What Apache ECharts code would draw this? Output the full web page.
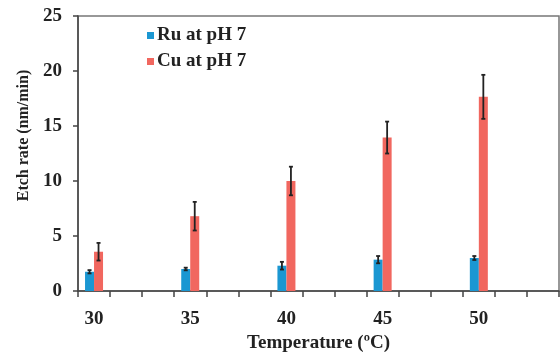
<!DOCTYPE html>
<html>
<head>
<meta charset="utf-8">
<script src="https://cdn.jsdelivr.net/npm/echarts@6/dist/echarts.min.js"></script>
<style>
  html, body { margin: 0; padding: 0; background: #fff; }
  #chart { width: 560px; height: 355px; }
</style>
</head>
<body>
<div id="chart"></div>
<script>
// x slots: one label every third slot, empty slots keep the spacing
const categories = ['30', '', '', '35', '', '', '40', '', '', '45', '', '', '50', '', ''];
const temps = ['30', '35', '40', '45', '50'];
const ruRate = [1.75, 2.0, 2.3, 2.85, 3.0];
const ruErr = [0.15, 0.12, 0.35, 0.33, 0.18];
const cuRate = [3.57, 6.8, 10.0, 13.95, 17.65];
const cuErr = [0.8, 1.3, 1.3, 1.45, 2.0];
const yTicks = [0, 5, 10, 15, 20, 25];

const slotOf = (t) => categories.indexOf(t);

function padded(vals) {
  const out = categories.map(() => null);
  temps.forEach((t, i) => { out[slotOf(t)] = vals[i]; });
  return out;
}

function errData(vals, errs) {
  return temps.map((t, i) => [slotOf(t), vals[i], errs[i]]);
}

const BAR_W = 9;
const font = 'Liberation Serif';

function errRender(shift) {
  return function (params, api) {
    const x = api.value(0);
    const v = api.value(1);
    const e = api.value(2);
    const top = api.coord([x, v + e]);
    const bot = api.coord([x, v - e]);
    const cx = top[0] + shift;
    const style = {stroke: '#222', lineWidth: 1.8};
    return {
      type: 'group',
      children: [
        {type: 'line', shape: {x1: cx, y1: top[1], x2: cx, y2: bot[1]}, style: style},
        {type: 'line', shape: {x1: cx - 2, y1: top[1], x2: cx + 2, y2: top[1]}, style: style},
        {type: 'line', shape: {x1: cx - 2, y1: bot[1], x2: cx + 2, y2: bot[1]}, style: style}
      ]
    };
  };
}

const chart = echarts.init(document.getElementById('chart'), null, {renderer: 'canvas'});

const option = {
  backgroundColor: '#fff',
  animation: false,
  textStyle: {fontFamily: font},
  grid: {
    left: 78, right: 1, top: 16, bottom: 64,
    outerBoundsMode: 'none',
    show: true, borderColor: '#777', borderWidth: 1.5
  },
  legend: {
    left: 142, top: 21,
    orient: 'vertical',
    itemWidth: 7, itemHeight: 7, itemGap: 7,
    icon: 'rect',
    textStyle: {fontFamily: font, fontWeight: 'bold', fontSize: 19, color: '#222', padding: [0, 0, 0, -2]},
    data: ['Ru at pH 7', 'Cu at pH 7']
  },
  xAxis: {
    type: 'category',
    data: categories,
    boundaryGap: true,
    name: 'Temperature (\u00baC)',
    nameLocation: 'middle',
    nameGap: 41,
    nameTextStyle: {fontFamily: font, fontWeight: 'bold', fontSize: 19, color: '#222'},
    axisLine: {lineStyle: {color: '#444', width: 1.5}},
    axisTick: {show: true, interval: 0, length: 6, lineStyle: {color: '#444', width: 1.5}},
    axisLabel: {
      interval: 0, margin: 19,
      fontFamily: font, fontWeight: 'bold', fontSize: 19, color: '#222'
    },
    splitLine: {show: false}
  },
  yAxis: {
    type: 'value',
    min: yTicks[0], max: yTicks[yTicks.length - 1], interval: 5,
    name: 'Etch rate (nm/min)',
    nameLocation: 'middle',
    nameGap: 40,
    nameTextStyle: {fontFamily: font, fontWeight: 'bold', fontSize: 16, color: '#222', padding: [0, 0, 0, 36]},
    axisLine: {show: true, lineStyle: {color: '#444', width: 1.5}},
    axisTick: {show: true, length: 5, lineStyle: {color: '#444', width: 1.5}},
    axisLabel: {margin: 16, fontFamily: font, fontWeight: 'bold', fontSize: 19, color: '#222'},
    splitLine: {show: false}
  },
  series: [
    {
      name: 'Ru at pH 7', type: 'bar',
      data: padded(ruRate),
      barWidth: BAR_W, barGap: '0%',
      itemStyle: {color: '#1b97d2'}
    },
    {
      name: 'Cu at pH 7', type: 'bar',
      data: padded(cuRate),
      barWidth: BAR_W, barGap: '0%',
      itemStyle: {color: '#f1675f'}
    },
    {
      type: 'custom', name: 'ru-err',
      renderItem: errRender(-BAR_W / 2),
      data: errData(ruRate, ruErr),
      z: 10
    },
    {
      type: 'custom', name: 'cu-err',
      renderItem: errRender(BAR_W / 2),
      data: errData(cuRate, cuErr),
      z: 10
    }
  ]
};

chart.setOption(option);
</script>
</body>
</html>
